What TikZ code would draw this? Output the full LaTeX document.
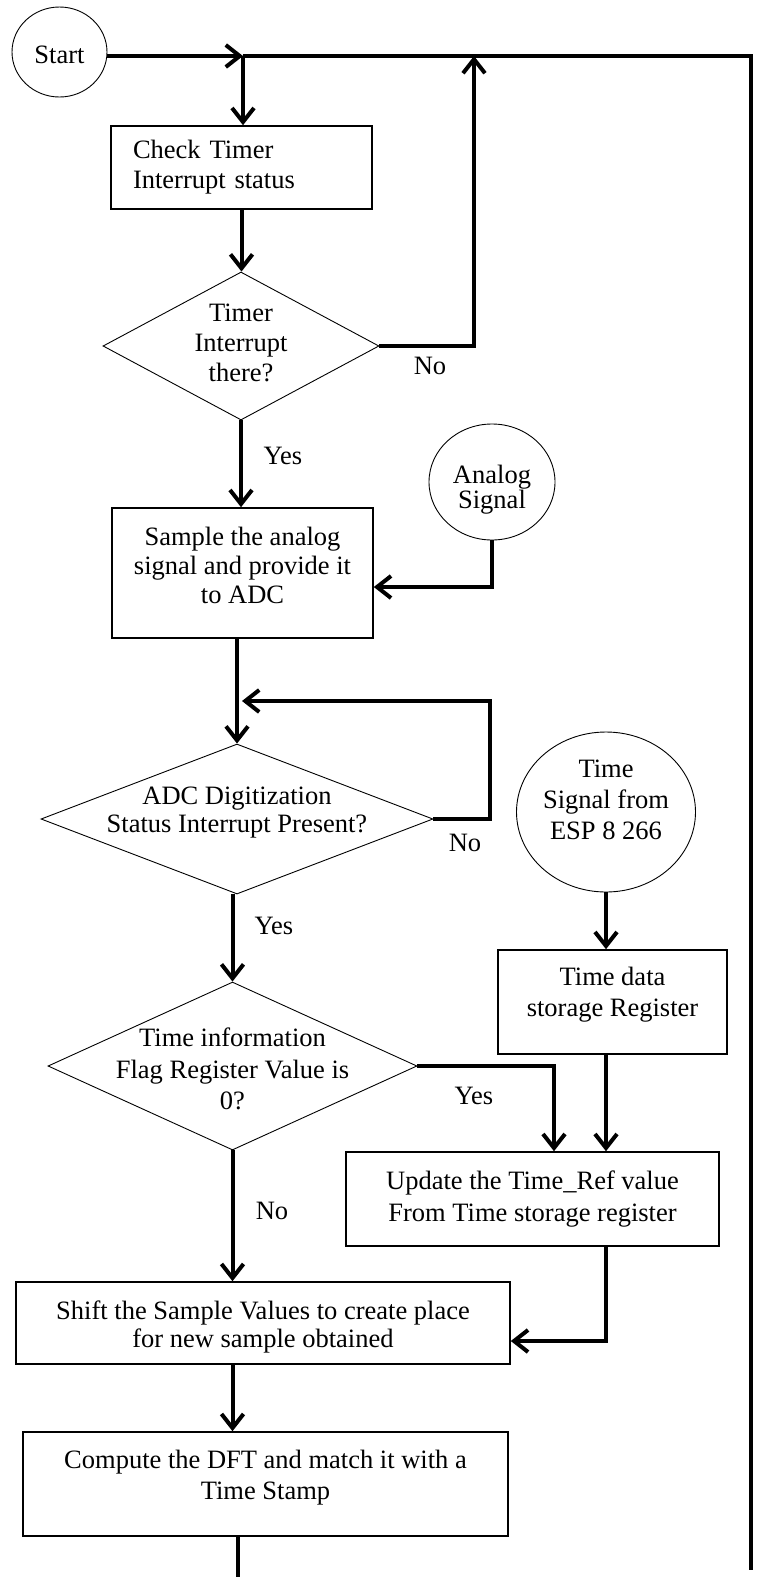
\documentclass[tikz,border=0pt]{standalone}
\usepackage{fontspec}
\setmainfont{Liberation Serif}
\usetikzlibrary{shapes.geometric,arrows.meta,calc}
\newcommand{\lowr}[1]{\rule{0pt}{#1}}
\begin{document}
\begin{tikzpicture}[x=1pt,y=-1pt,
  font=\fontsize{26.5}{30}\selectfont,
  flow/.style={line width=4pt,-{Straight Barb[length=14pt,width=22pt]}},
  wire/.style={line width=4pt},
  box/.style={rectangle,draw,line width=1.6pt,align=center,inner sep=0pt},
  dec/.style={diamond,draw,line width=0.9pt,align=center,inner sep=-14pt},
  term/.style={ellipse,draw,line width=0.9pt,align=center,inner sep=-5pt},
  lbl/.style={inner sep=0pt}]
\useasboundingbox (0,0) rectangle (757,1577);

% nodes
\node[term, minimum width=95pt, minimum height=90pt] (start) at (59.5,52) {\lowr{23pt}Start};
\node[box, minimum width=261pt, minimum height=83pt, align=left, text width=217pt, inner xsep=22pt] (check) at (241.5,167.5) {Check Timer\\Interrupt status};
\node[dec, shape aspect=1.86, minimum width=276pt, minimum height=148pt, text depth=7pt] (d1) at (241,346) {Timer\\Interrupt\\there?};
\node[box, minimum width=261pt, minimum height=130pt, text depth=15pt, font=\fontsize{26.5}{29}\selectfont] (sample) at (242.5,573) {Sample the analog\\signal and provide it\\to ADC};
\node[term, minimum width=126pt, minimum height=116pt, font=\fontsize{26.5}{22}\selectfont] (analog) at (492,482) {\lowr{34pt}Analog\\Signal};
\node[dec, shape aspect=2.61, minimum width=392pt, minimum height=150pt, text depth=19pt, font=\fontsize{26.5}{28}\selectfont] (d2) at (237,819) {ADC Digitization\\Status Interrupt Present?};
\node[term, minimum width=179pt, minimum height=160pt, text depth=24pt, font=\fontsize{26.5}{31}\selectfont] (tsig) at (606,812) {Time\\Signal from\\ESP 8 266};
\node[box, minimum width=229pt, minimum height=104pt, text depth=20pt, font=\fontsize{26.5}{31}\selectfont] (tdata) at (612.5,1002) {Time data\\storage Register};
\node[dec, shape aspect=2.2, minimum width=369pt, minimum height=168pt, font=\fontsize{26.5}{31.5}\selectfont] (d3) at (232.5,1066) {\lowr{25pt}Time information\\Flag Register Value is\\0?};
\node[box, minimum width=373pt, minimum height=94pt, text depth=6pt, font=\fontsize{26.5}{32}\selectfont] (update) at (532.5,1199) {Update the Time\_Ref value\\From Time storage register};
\node[box, minimum width=494pt, minimum height=82pt, text depth=0pt, font=\fontsize{26.5}{28}\selectfont] (shift) at (263,1323) {\lowr{20pt}Shift the Sample Values to create place\\for new sample obtained};
\node[box, minimum width=485pt, minimum height=104pt, text depth=19pt, font=\fontsize{26.5}{31}\selectfont] (compute) at (265.5,1484) {Compute the DFT and match it with a\\Time Stamp};

% labels
\node[lbl] (no1) at (430,366) {No};
\node[lbl] (yes1) at (283,456) {Yes};
\node[lbl] (no2) at (465,843) {No};
\node[lbl] (yes2) at (274,926) {Yes};
\node[lbl] (yes3) at (474,1096) {Yes};
\node[lbl] (no3) at (272,1211) {No};

% coordinates
\coordinate (j1) at (243,56);
\coordinate (j2) at (474,56);
\coordinate (tr) at (751,56);
\coordinate (br) at (751,1570);
\coordinate (bot) at (238,1577);
\coordinate (l1) at (490,701);

% connectors
\draw[flow] (start.east |- j1) -- (j1);
\draw[wire] (j1) -- (tr) -- (br);
\draw[flow] (j1) -- (check.north -| j1);
\draw[flow] (check.south) -- (check.south |- d1.north);
\draw[flow] (d1.east) -| (j2);
\draw[flow] (d1.south) -- (d1.south |- sample.north);
\draw[flow] (analog.south) |- ($(sample.east)+(0,14)$);
\draw[flow] (d2.north |- sample.south) -- (d2.north);
\draw[flow] (d2.east) -| (l1) -- ($(d2.north |- l1)+(5,0)$);
\draw[flow] (d3.north |- d2.south) -- (d3.north);
\draw[flow] (tsig.south) -- (tsig.south |- tdata.north);
\draw[flow] (d3.east) -| ($(update.north)+(21.5,0)$);
\draw[flow] (tsig.south |- tdata.south) -- (tsig.south |- update.north);
\draw[flow] (tsig.south |- update.south) |- ($(shift.east)+(0,18)$);
\draw[flow] (d3.south) -- (d3.south |- shift.north);
\draw[flow] (d3.south |- shift.south) -- (d3.south |- compute.north);
\draw[wire] (compute.south -| bot) -- (bot);
\end{tikzpicture}
\end{document}
